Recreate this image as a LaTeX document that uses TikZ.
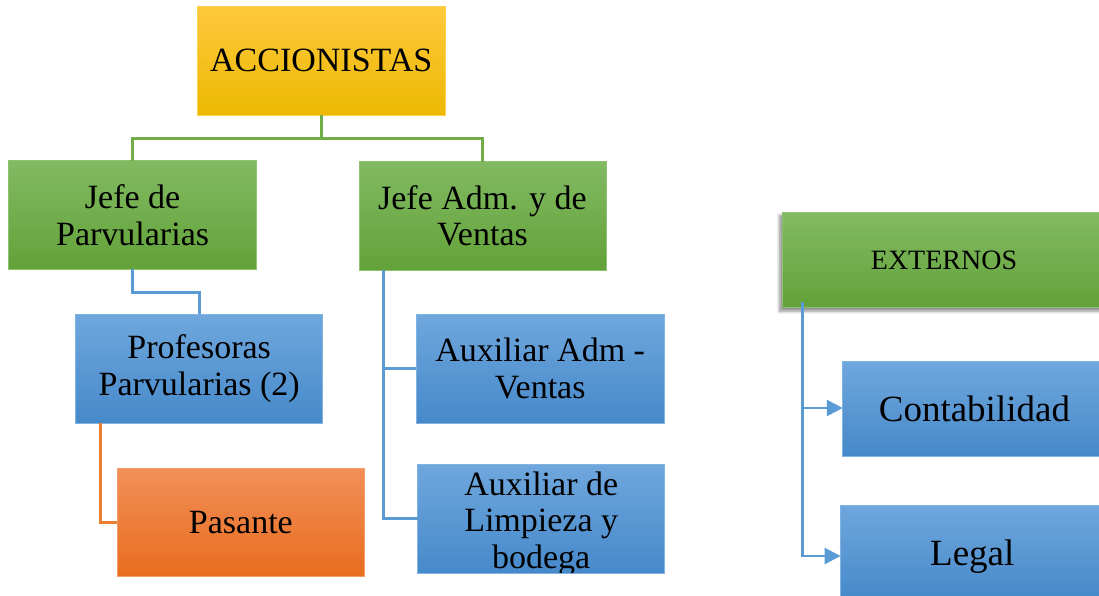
\documentclass[tikz,border=0pt]{standalone}
\usepackage{fontspec}
\setmainfont{Liberation Serif}
\usetikzlibrary{arrows.meta,shadows.blur}
\definecolor{goldT}{HTML}{FFC93E}
\definecolor{goldB}{HTML}{ECB800}
\definecolor{goldL}{HTML}{FFD24D}
\definecolor{grnT}{HTML}{82BA62}
\definecolor{grnB}{HTML}{62A239}
\definecolor{grnL}{HTML}{8EC270}
\definecolor{bluT}{HTML}{6FA7DD}
\definecolor{bluB}{HTML}{4689CA}
\definecolor{bluL}{HTML}{80B2E2}
\definecolor{orgT}{HTML}{F28F59}
\definecolor{orgB}{HTML}{E86D1E}
\definecolor{orgL}{HTML}{F49E69}
\definecolor{lgreen}{HTML}{70AD47}
\definecolor{lblue}{HTML}{5B9BD5}
\definecolor{lorange}{HTML}{ED7D31}
\begin{document}
\begin{tikzpicture}[x=1pt,y=-1pt,
  box/.style={rectangle, inner sep=0pt, outer sep=0pt, align=center, line width=0.8pt,
    font=\fontsize{34}{36.5}\selectfont, text=black},
  goldbox/.style={box, top color=goldT, bottom color=goldB, draw=goldL},
  greenbox/.style={box, top color=grnT, bottom color=grnB, draw=grnL},
  bluebox/.style={box, top color=bluT, bottom color=bluB, draw=bluL},
  orangebox/.style={box, top color=orgT, bottom color=orgB, draw=orgL},
  gline/.style={draw=lgreen, line width=2.7pt},
  bline/.style={draw=lblue, line width=2.7pt},
  oline/.style={draw=lorange, line width=2.7pt},
  arrline/.style={draw=lblue, line width=2.7pt, -{Triangle[length=16pt,width=16pt]}}
]
\useasboundingbox (0,0) rectangle (1099,596);
\clip (0,0) rectangle (1099,596);

% nodes
\node[goldbox, minimum width=247.7pt, minimum height=109.3pt] (acc) at (321.2,60.7) {ACCIONISTAS};
\node[greenbox, minimum width=247.5pt, minimum height=108.6pt] (jp) at (132.6,215) {Jefe de\\Parvularias};
\node[greenbox, minimum width=247pt, minimum height=108.6pt] (ja) at (482.5,216) {Jefe Adm. y de\\Ventas};
\node[bluebox, minimum width=246.9pt, minimum height=109.3pt] (prof) at (199.2,368.7) {Profesoras\\Parvularias (2)};
\node[orangebox, minimum width=247.8pt, minimum height=108.3pt] (pas) at (240.9,522.2) {Pasante};
\node[bluebox, minimum width=247.7pt, minimum height=109pt] (aa) at (540.2,368.5) {Auxiliar Adm -\\Ventas};
\node[bluebox, minimum width=247pt, minimum height=109.3pt,
  path picture={\node[align=center, inner sep=0pt, font=\fontsize{34}{36.5}\selectfont]
    at ([yshift=-4.8pt]path picture bounding box.center) {Auxiliar de\\Limpieza y\\bodega};}]
  (al) at (541.2,518.7) {};
\node[greenbox, minimum width=324pt, minimum height=95.7pt,
  font=\fontsize{28}{30}\selectfont,
  blur shadow={shadow xshift=-2.5pt, shadow yshift=-3.5pt, shadow blur radius=3pt, shadow blur steps=6, shadow opacity=45}]
  (ext) at (944,259.9) {EXTERNOS};
\node[bluebox, minimum width=263.3pt, minimum height=94.3pt, font=\fontsize{37}{40}\selectfont] (cont) at (974.4,408.9) {Contabilidad};
\node[bluebox, minimum width=263.4pt, minimum height=95pt, font=\fontsize{37}{40}\selectfont,
  text depth=0pt] (leg) at (972.3,552.5) {Legal};

% connectors
\coordinate (g1) at (321.2,138.8);
\draw[gline] (acc.south) -- (g1) -| (jp.north);
\draw[gline] (g1) -| (ja.north);

\coordinate (b1) at (132.6,292.3);
\draw[bline] (jp.south) -- (b1) -| (prof.north);

\draw[oline] ([xshift=24.9pt]prof.south west) |- (pas.west);

\draw[bline] ([xshift=24.4pt]ja.south west) |- (aa.west);
\draw[bline] ([xshift=24.4pt]ja.south west) |- (al.west);

\draw[arrline] ([xshift=20.3pt,yshift=6pt]ext.south west) |- ([yshift=0.9pt]cont.west);
\draw[arrline] ([xshift=20.3pt,yshift=6pt]ext.south west) |- ([yshift=-3.5pt]leg.west);
\end{tikzpicture}
\end{document}
